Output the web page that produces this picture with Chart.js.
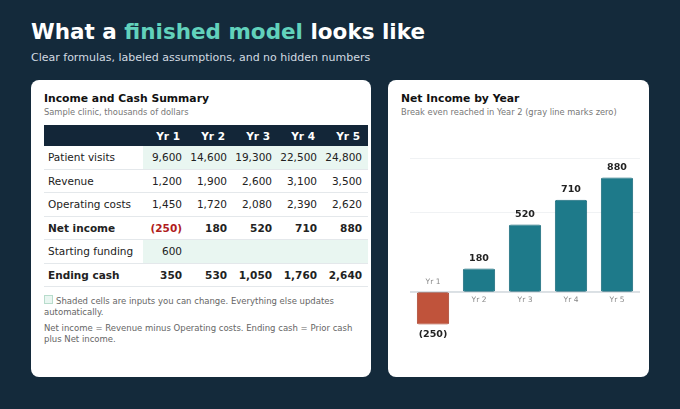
<!DOCTYPE html><html><head><meta charset="utf-8">
<script src="https://cdn.jsdelivr.net/npm/chart.js"></script>
<style>
body{margin:0;width:680px;height:409px;background:#142a3b;font-family:"DejaVu Sans",sans-serif;overflow:hidden;position:relative}
h1{position:absolute;left:31px;top:19px;margin:0;font-size:21.5px;color:#fff;font-weight:bold}
h1 span{color:#62d2bc}
.sub{position:absolute;left:31px;top:51px;font-size:11px;color:#d2dbe2}
.card{position:absolute;top:80px;height:297px;background:#fff;border-radius:8px}
.ct{font-size:10.8px;font-weight:bold;color:#111;position:absolute;left:13px;top:12px}
.cs{font-size:8.3px;color:#777;position:absolute;left:13px;top:27px}
table{position:absolute;left:13px;top:45px;border-collapse:collapse;font-size:10.5px;color:#222}
th{background:#132638;color:#fff;height:21px;text-align:right;padding:0 8px 0 0;font-size:10.5px}
td{height:22.5px;border-bottom:1px solid #e4e8eb;text-align:right;padding:0 6px 0 0}
td:first-child{text-align:left;padding-left:4px;width:89px}
td.i{background:#e9f6f1}
tr.b td{font-weight:bold}
.neg{color:#b01c1c}
.note{position:absolute;left:13px;font-size:8.5px;color:#666;width:318px;line-height:11px}
.sw{display:inline-block;width:7px;height:7px;background:#e9f6f1;border:1px solid #b8dccc;margin-right:3px}
</style></head><body>
<h1>What a <span>finished model</span> looks like</h1>
<div class="sub">Clear formulas, labeled assumptions, and no hidden numbers</div>
<div class="card" style="left:31px;width:340px">
<div class="ct">Income and Cash Summary</div>
<div class="cs">Sample clinic, thousands of dollars</div>
<table id="tb"></table>
<div class="note" style="top:215px"><span class="sw"></span>Shaded cells are inputs you can change. Everything else updates automatically.</div>
<div class="note" style="top:243px">Net income = Revenue minus Operating costs. Ending cash = Prior cash plus Net income.</div>
</div>
<div class="card" style="left:388px;width:261px">
<div class="ct">Net Income by Year</div>
<div class="cs">Break even reached in Year 2 (gray line marks zero)</div>
<div style="position:absolute;left:22px;top:70px;width:230px;height:210px"><canvas id="c"></canvas></div>
</div>
<script>
const years=["Yr 1","Yr 2","Yr 3","Yr 4","Yr 5"];
const patientVisits=[9600,14600,19300,22500,24800];
const revenue=[1200,1900,2600,3100,3500];
const operatingCosts=[1450,1720,2080,2390,2620];
const netIncome=[-250,180,520,710,880];
const startingFunding=[600,null,null,null,null];
const endingCash=[350,530,1050,1760,2640];
const fmt=v=>v==null?"":v<0?"("+Math.abs(v).toLocaleString("en-US")+")":v.toLocaleString("en-US");
let h="<tr><th style='background:#132638'></th>"+years.map(y=>"<th style='width:37px'>"+y+"</th>").join("")+"</tr>";
const row=(l,a,inp,b,neg)=>"<tr"+(b?" class='b'":"")+"><td>"+l+"</td>"+a.map(v=>"<td class='"+(inp?"i ":"")+(neg&&v<0?"neg":"")+"'>"+fmt(v)+"</td>").join("")+"</tr>";
h+=row("Patient visits",patientVisits,true)+row("Revenue",revenue)+row("Operating costs",operatingCosts)+row("Net income",netIncome,false,true,true)+row("Starting funding",startingFunding,true)+row("Ending cash",endingCash,false,true);
document.getElementById("tb").innerHTML=h;
const lab={id:"lab",afterDatasetsDraw(ch){const c=ch.ctx,m=ch.getDatasetMeta(0),y0=ch.scales.y.getPixelForValue(0);
c.save();c.textAlign="center";
c.strokeStyle="#b8c2ca";c.lineWidth=1;c.beginPath();c.moveTo(ch.chartArea.left,y0);c.lineTo(ch.chartArea.right,y0);c.stroke();
m.data.forEach((b,i)=>{const v=netIncome[i];c.fillStyle="#222";c.font="bold 9.5px 'DejaVu Sans'";
if(v<0){c.textBaseline="top";c.fillText(fmt(v),b.x,b.y+5);c.font="7.5px 'DejaVu Sans'";c.fillStyle="#888";c.textBaseline="bottom";c.fillText(years[i],b.x,y0-6);}
else{c.textBaseline="bottom";c.fillText(fmt(v),b.x,b.y-5);c.font="7.5px 'DejaVu Sans'";c.fillStyle="#888";c.textBaseline="top";c.fillText(years[i],b.x,y0+4);}});
c.restore();}};
new Chart(document.getElementById("c"),{type:"bar",data:{labels:years,datasets:[{data:netIncome,
backgroundColor:netIncome.map(v=>v<0?"#c0533b":"#1e7a8a"),borderColor:netIncome.map(v=>v<0?"#a8412b":"#17697a"),borderWidth:1,borderRadius:2,borderSkipped:false,categoryPercentage:0.95,barPercentage:0.74}]},
options:{responsive:true,maintainAspectRatio:false,animation:false,plugins:{legend:{display:false},tooltip:{enabled:false}},layout:{padding:0},
scales:{x:{display:false},y:{display:true,min:-523,max:1092,afterBuildTicks:a=>{a.ticks=[{value:615},{value:1030}]},ticks:{display:false},border:{display:false},grid:{color:"#f0f2f4",drawTicks:false}}}},plugins:[lab]});
</script></body></html>
